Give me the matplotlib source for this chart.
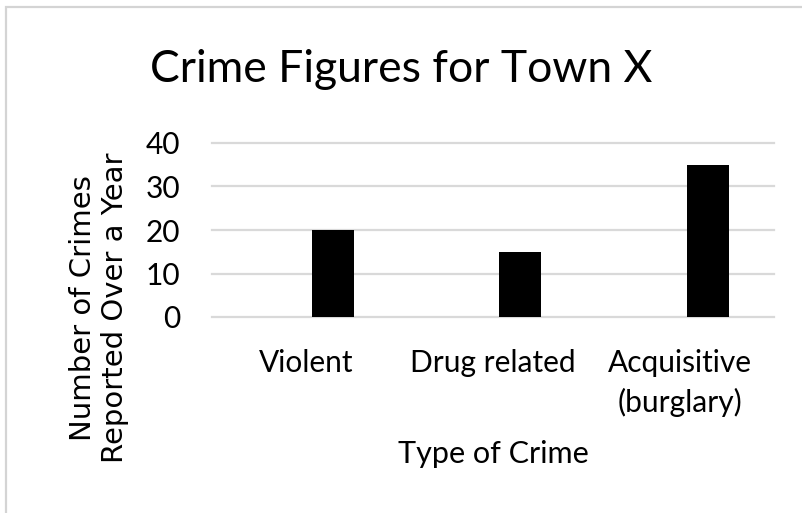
import matplotlib
matplotlib.use("Agg")
import matplotlib.pyplot as plt
from matplotlib.patches import Rectangle
import numpy as np

# data
categories = ["Violent", "Drug related", "Acquisitive\n(burglary)"]
crimes = [20, 15, 35]
y_ticks = [0, 10, 20, 30, 40]

W, H = 803, 513
fig = plt.figure(figsize=(W / 100, H / 100), dpi=100)

# chart frame (light grey border, open to the right/bottom like the crop)
fig.patches.append(Rectangle((6 / W, -0.2), 1.5, 1.2 - 7 / H,
                             transform=fig.transFigure, fill=False,
                             edgecolor="#d4d4d4", linewidth=1.6))

# plot area in pixel terms
left, right, top, bottom = 212, 774, 143, 317
ax = fig.add_axes([left / W, 1 - bottom / H, (right - left) / W, (bottom - top) / H])

x = np.arange(len(categories))
bar_w = 0.224
offset = 0.146  # bars sit right of the category centre (empty first series)
ax.bar(x + offset, crimes, width=bar_w, color="black", zorder=3)

for t in y_ticks:
    ax.axhline(t, color="#d9d9d9", linewidth=1.6, zorder=1, clip_on=False)

ax.set_xlim(-0.5, len(categories) - 0.5)
ax.set_ylim(0, 40)
ax.set_yticks(y_ticks)
ax.set_xticks(x)
ax.set_xticklabels(categories)
for s in ax.spines.values():
    s.set_visible(False)

ax.tick_params(axis="both", length=0)
ax.tick_params(axis="y", pad=23)
ax.tick_params(axis="x", pad=23)
for lbl in ax.get_yticklabels() + ax.get_xticklabels():
    lbl.set_fontfamily("Lato")
    lbl.set_fontsize(21.5)
    lbl.set_linespacing(1.45)

fig.text(((left + right) / 2) / W, 1 - 463 / H, "Type of Crime",
         ha="center", va="baseline", fontfamily="Lato", fontsize=22)

fig.text(99 / W, 1 - 308 / H, "Number of Crimes\nReported Over a Year",
         rotation=90, ha="center", va="center", fontfamily="DejaVu Sans",
         fontsize=21, linespacing=1.2)

fig.text(0.5, 1 - 82 / H, "Crime Figures for Town X", ha="center",
         va="baseline", fontfamily="Lato", fontsize=32)

fig.savefig("out.png", dpi=100, facecolor="white")
